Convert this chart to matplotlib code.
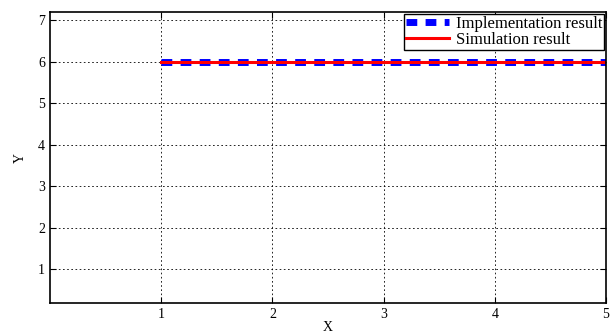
import matplotlib
matplotlib.use("Agg")
import matplotlib.pyplot as plt

# data
x_vals = [1, 2, 3, 4, 5]
impl_y = [6, 6, 6, 6, 6]
sim_y = [6, 6, 6, 6, 6]

plt.rcParams["font.family"] = ["Liberation Serif", "DejaVu Serif"]
plt.rcParams["font.size"] = 10

fig = plt.figure(figsize=(6.13, 3.33), dpi=100)
ax = fig.add_axes([0.0816, 0.090, 0.907, 0.874])

ax.plot(x_vals, impl_y, color="blue", linestyle=(0, (1.55, 1.2)), linewidth=5,
        label="Implementation result")
ax.plot(x_vals, sim_y, color="red", linewidth=2.2, label="Simulation result")

ax.set_xlim(0, 5)
ax.set_ylim(0.18, 7.2)
ax.set_xticks([1, 2, 3, 4, 5])
ax.set_yticks([1, 2, 3, 4, 5, 6, 7])
ax.grid(True, color="black", linestyle=(0, (2, 3)), linewidth=0.6)
ax.tick_params(direction="in", length=4, labelsize=10, top=True, right=True)
for s in ax.spines.values():
    s.set_linewidth(1.2)

ax.set_xlabel("X", labelpad=0)
ax.set_ylabel("Y", labelpad=8)

leg = ax.legend(loc="upper right", fancybox=False, edgecolor="black",
                framealpha=1, borderpad=0.12, labelspacing=0.0,
                handlelength=2.6, handletextpad=0.4, borderaxespad=0.1,
                fontsize=12)
leg.get_frame().set_linewidth(1.0)

fig.savefig("out.png", dpi=100)
